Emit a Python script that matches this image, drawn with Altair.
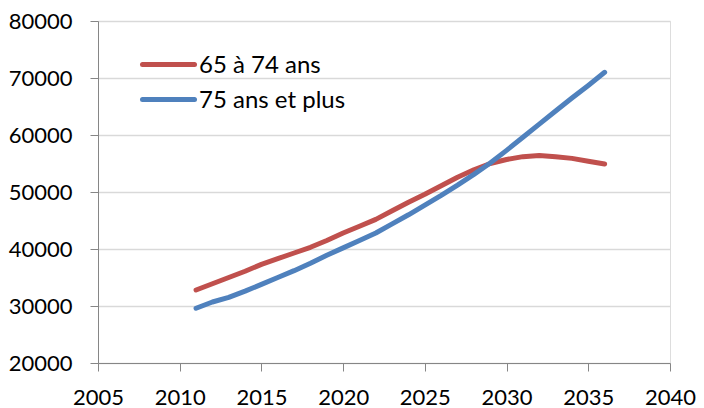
import altair as alt
import pandas as pd

years = list(range(2011, 2037))
s65_74 = [32800, 33900, 35000, 36100, 37300, 38300, 39300, 40300, 41500, 42800,
          44000, 45200, 46700, 48200, 49600, 51100, 52600, 53900, 55000, 55700,
          56200, 56400, 56200, 55900, 55400, 54900]
s75p = [29600, 30700, 31500, 32600, 33800, 35000, 36200, 37500, 38900, 40200,
        41500, 42800, 44400, 46000, 47700, 49400, 51200, 53100, 55100, 57300,
        59600, 61900, 64200, 66500, 68700, 71000]
series = ["65 à 74 ans", "75 ans et plus"]
colors = ["#C0504D", "#4F81BD"]
x_ticks = list(range(2005, 2041, 5))
y_ticks = list(range(20000, 80001, 10000))

rows = []
for name, vals in zip(series, [s65_74, s75p]):
    for yr, v in zip(years, vals):
        rows.append({"annee": yr, "valeur": v, "serie": name})
df = pd.DataFrame(rows)
legend_df = pd.DataFrame({"serie": series, "rang": [0, 1]})

FONT = "Lato"
FS = 22

color = alt.Color("serie:N", scale=alt.Scale(domain=series, range=colors), legend=None)

lines = alt.Chart(df).mark_line(strokeWidth=5, strokeCap="round", strokeJoin="round").encode(
    x=alt.X("annee:Q", scale=alt.Scale(domain=[2005, 2040], nice=False),
            axis=alt.Axis(values=x_ticks, format="d", title=None, grid=False,
                          domainColor="#868686", tickColor="#868686", tickSize=8,
                          labelFont=FONT, labelFontSize=FS, labelColor="#000000",
                          labelPadding=16, labelFlush=False)),
    y=alt.Y("valeur:Q", scale=alt.Scale(domain=[20000, 80000], nice=False, zero=False),
            axis=alt.Axis(values=y_ticks, format="d", title=None, grid=True,
                          gridColor="#D9D9D9", gridWidth=1.5,
                          domainColor="#868686", tickColor="#868686", tickSize=8,
                          labelFont=FONT, labelFontSize=FS, labelColor="#000000",
                          labelPadding=18)),
    color=color,
)

leg_base = alt.Chart(legend_df).transform_calculate(py="43.5 + 35 * datum.rang")
leg_rule = leg_base.mark_rule(strokeWidth=5, strokeCap="round").encode(
    x=alt.value(44.5), x2=alt.value(96.5),
    y=alt.Y("py:Q", scale=None, axis=None),
    color=color,
)
leg_text = leg_base.mark_text(align="left", baseline="middle", dx=0, dy=1,
                              font=FONT, fontSize=24, color="#000000").encode(
    x=alt.value(101),
    y=alt.Y("py:Q", scale=None, axis=None),
    text="serie:N",
)

chart = alt.layer(lines, leg_rule, leg_text).properties(
    width=572, height=342,
    autosize=alt.AutoSizeParams(type="none"),
    padding={"left": 90, "top": 13, "right": 26, "bottom": 45},
).configure_view(stroke=None).configure(background="white")

chart.save("out.html", embed_options={"renderer": "svg", "actions": False})
